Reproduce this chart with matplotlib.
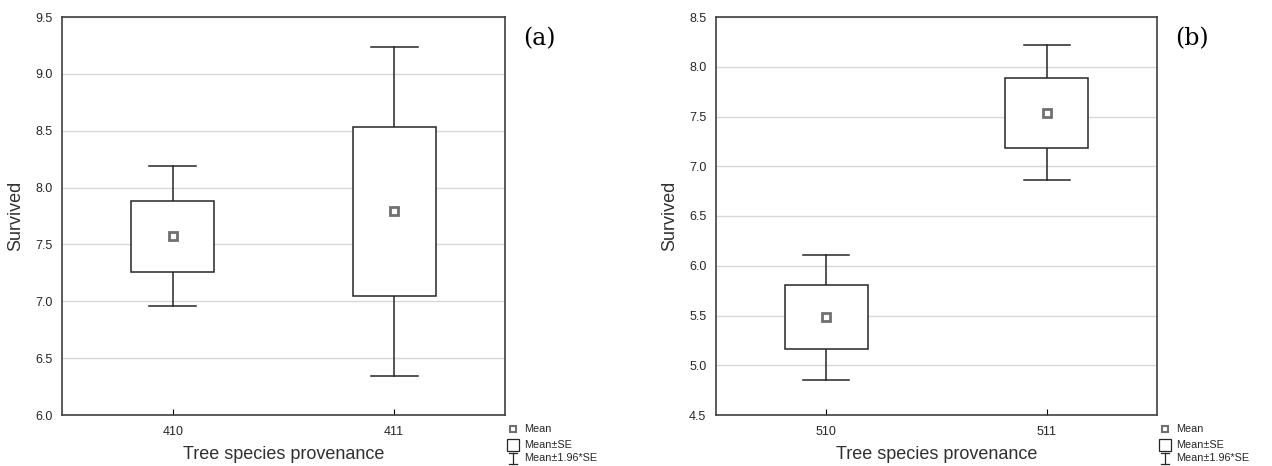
import matplotlib.pyplot as plt

plt.rcParams['font.family'] = ['Liberation Sans', 'DejaVu Sans']

# panel (a)
cats_a = ['410', '411']
mean_a = [7.57, 7.79]
se_lo_a = [7.26, 7.05]
se_hi_a = [7.88, 8.53]
ci_lo_a = [6.96, 6.34]
ci_hi_a = [8.19, 9.24]
yticks_a = [6.0, 6.5, 7.0, 7.5, 8.0, 8.5, 9.0, 9.5]

# panel (b)
cats_b = ['510', '511']
mean_b = [5.48, 7.54]
se_lo_b = [5.16, 7.18]
se_hi_b = [5.81, 7.89]
ci_lo_b = [4.85, 6.86]
ci_hi_b = [6.11, 8.22]
yticks_b = [4.5, 5.0, 5.5, 6.0, 6.5, 7.0, 7.5, 8.0, 8.5]

legend_labels = ['Mean', 'Mean±SE', 'Mean±1.96*SE']
dark = '#262626'


def draw_legend(ax):
    tr = ax.transAxes
    xm, xt = 1.018, 1.043
    rows = [-0.035, -0.075, -0.109]
    ax.plot(xm, rows[0], marker='s', ms=5, mfc='white', mec='#707070', mew=1.5,
            transform=tr, clip_on=False)
    ax.plot(xm, rows[1], marker='s', ms=8.5, mfc='white', mec=dark, mew=0.9,
            transform=tr, clip_on=False)
    h, w = 0.014, 0.009
    y = rows[2]
    ax.plot([xm, xm], [y - h, y + h], color=dark, lw=0.9, transform=tr, clip_on=False)
    ax.plot([xm - w, xm + w], [y + h, y + h], color=dark, lw=0.9, transform=tr, clip_on=False)
    ax.plot([xm - w, xm + w], [y - h, y - h], color=dark, lw=0.9, transform=tr, clip_on=False)
    for yy, lab in zip(rows, legend_labels):
        ax.text(xt, yy, lab, transform=tr, fontsize=7.8, color=dark,
                va='center', ha='left')


def draw_panel(ax, cats, mean, se_lo, se_hi, ci_lo, ci_hi, yticks, tag):
    bw = 0.375
    cw = 0.21
    for i in range(len(cats)):
        # whiskers
        ax.plot([i, i], [ci_lo[i], se_lo[i]], color=dark, lw=1.1, zorder=3)
        ax.plot([i, i], [se_hi[i], ci_hi[i]], color=dark, lw=1.1, zorder=3)
        ax.plot([i - cw / 2, i + cw / 2], [ci_lo[i]] * 2, color=dark, lw=1.1, zorder=3)
        ax.plot([i - cw / 2, i + cw / 2], [ci_hi[i]] * 2, color=dark, lw=1.1, zorder=3)
        # box
        ax.add_patch(plt.Rectangle((i - bw / 2, se_lo[i]), bw, se_hi[i] - se_lo[i],
                                   facecolor='white', edgecolor=dark, lw=1.1, zorder=4))
        ax.plot(i, mean[i], marker='s', ms=6, mfc='white', mec='#707070', mew=2, zorder=5)
    ax.set_xlim(-0.5, len(cats) - 0.5)
    ax.set_ylim(yticks[0], yticks[-1])
    ax.set_yticks(yticks)
    ax.set_yticklabels(['%.1f' % v for v in yticks])
    ax.set_xticks(range(len(cats)))
    ax.set_xticklabels(cats)
    ax.tick_params(axis='y', length=0, pad=7, labelsize=9, labelcolor=dark)
    ax.tick_params(axis='x', direction='in', length=4, pad=8, labelsize=9, labelcolor=dark)
    ax.grid(axis='y', color='#d8d8d8', lw=1)
    ax.set_axisbelow(True)
    for s in ax.spines.values():
        s.set_color('#404040')
        s.set_linewidth(1.2)
    ax.set_xlabel('Tree species provenance', fontsize=13, color='#303030', labelpad=6)
    ax.set_ylabel('Survived', fontsize=13, color='#303030', labelpad=8)
    ax.text(1.04, 0.975, tag, transform=ax.transAxes, fontsize=17,
            family='DejaVu Serif', va='top', ha='left')
    draw_legend(ax)


fig = plt.figure(figsize=(12.72, 4.66), dpi=100)
ax1 = fig.add_axes([62 / 1272, 1 - 415 / 466, 443 / 1272, 398 / 466])
ax2 = fig.add_axes([716 / 1272, 1 - 415 / 466, 441 / 1272, 398 / 466])
draw_panel(ax1, cats_a, mean_a, se_lo_a, se_hi_a, ci_lo_a, ci_hi_a, yticks_a, '(a)')
draw_panel(ax2, cats_b, mean_b, se_lo_b, se_hi_b, ci_lo_b, ci_hi_b, yticks_b, '(b)')

fig.savefig('out.png', dpi=100)
